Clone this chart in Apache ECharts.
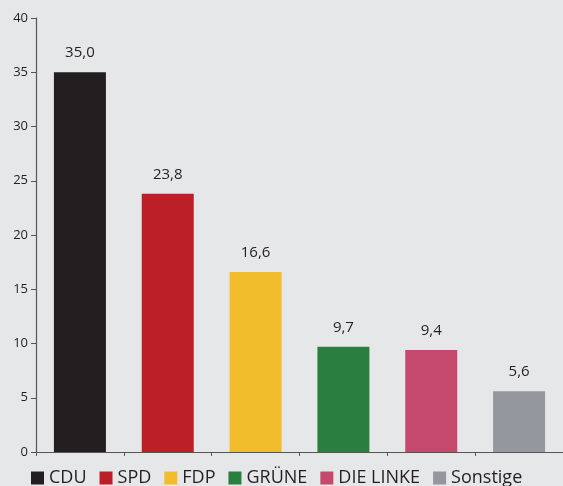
<!DOCTYPE html>
<html>
<head>
<meta charset="utf-8">
<script src="https://cdn.jsdelivr.net/npm/echarts@6/dist/echarts.min.js"></script>
<style>
html,body{margin:0;padding:0;background:#e6e7e9;}
#chart{width:563px;height:486px;}
</style>
</head>
<body>
<div id="chart"></div>
<script>
let parties = ['CDU', 'SPD', 'FDP', 'GRÜNE', 'DIE LINKE', 'Sonstige'];
let votes = [35.0, 23.8, 16.6, 9.7, 9.4, 5.6];
let colors = ['#231f20', '#bc1f28', '#f2bd2c', '#287f3f', '#c5496d', '#94979e'];
let yTicks = [0, 5, 10, 15, 20, 25, 30, 35, 40];

let myChart = echarts.init(document.getElementById('chart'));

// one series per party so the legend shows each one
let series = parties.map(function (p, i) {
    let data = parties.map(function (q, j) { return j == i ? votes[i] : '-'; });
    return {
        name: p,
        type: 'bar',
        stack: 'all',
        barWidth: 52,
        data: data,
        itemStyle: {color: colors[i]},
        label: {
            show: true,
            position: 'top',
            distance: 12,
            fontFamily: 'Open Sans',
            fontSize: 15,
            color: '#231f20',
            formatter: function (d) { return d.value.toFixed(1).replace('.', ','); }
        }
    };
});

let option = {
    backgroundColor: '#e6e7e9',
    animation: false,
    grid: {left: 36, right: 0, top: 18, bottom: 34},
    legend: {
        data: parties,
        left: 26,
        top: 464,
        itemWidth: 13,
        itemHeight: 13,
        itemGap: 13,
        icon: 'rect',
        textStyle: {fontFamily: 'Open Sans', fontSize: 18, color: '#231f20', padding: [0, 0, 0, 0]}
    },
    xAxis: {
        type: 'category',
        data: parties,
        axisLine: {lineStyle: {color: '#555555', width: 1.2}},
        axisTick: {show: true, length: 4, inside: false, lineStyle: {color: '#555555'}},
        axisLabel: {show: false}
    },
    yAxis: {
        type: 'value',
        min: yTicks[0],
        max: yTicks[yTicks.length - 1],
        interval: 5,
        splitLine: {show: false},
        axisLine: {show: true, lineStyle: {color: '#555555', width: 1.2}},
        axisTick: {show: true, length: 5, lineStyle: {color: '#555555'}},
        axisLabel: {fontFamily: 'Open Sans', fontSize: 13, color: '#231f20', margin: 8}
    },
    series: series
};

myChart.setOption(option);
</script>
</body>
</html>
